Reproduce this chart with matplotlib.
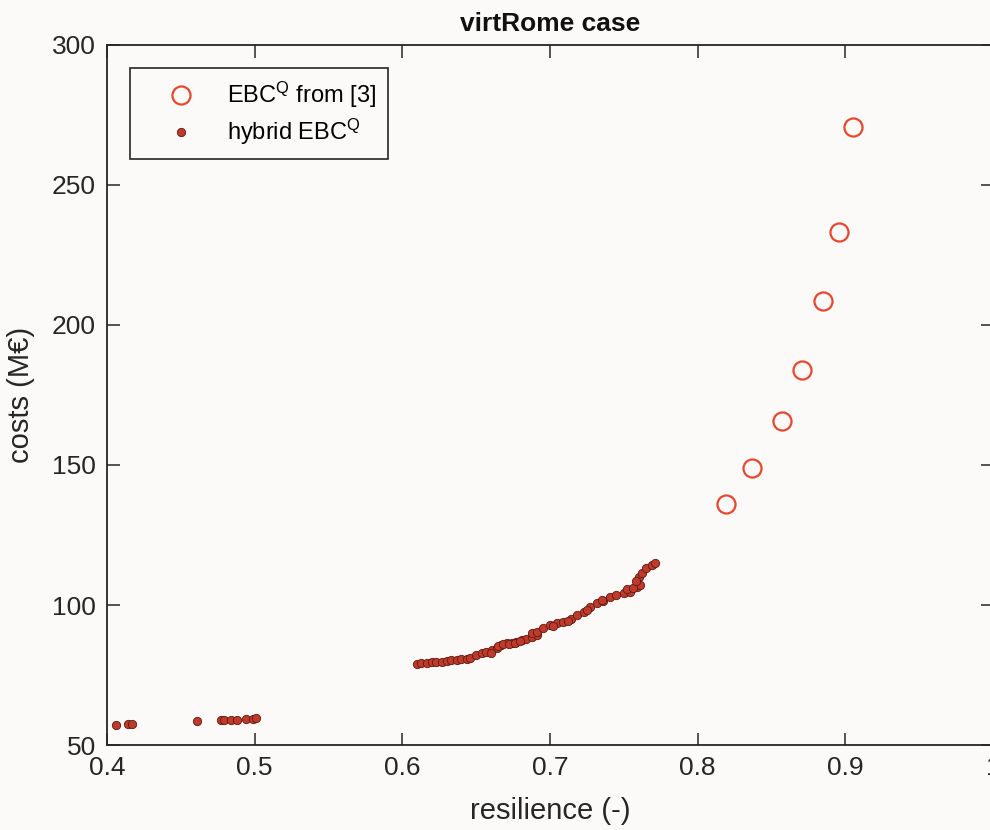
import matplotlib
matplotlib.use('Agg')
import matplotlib.pyplot as plt

# EBC^Q solutions taken from [3]
ebc_res = [0.819, 0.837, 0.857, 0.871, 0.885, 0.896, 0.905]
ebc_cost = [136.1, 148.8, 165.7, 183.9, 208.4, 233.3, 270.6]

# hybrid EBC^Q front, low-resilience group
hyb_res_low = [0.406, 0.414, 0.417, 0.461, 0.477, 0.479, 0.484, 0.488, 0.494, 0.499, 0.501]
hyb_cost_low = [57.3, 57.4, 57.4, 58.6, 58.9, 58.9, 59.0, 59.0, 59.3, 59.4, 59.5]

# hybrid EBC^Q front, main branch
hyb_res = [0.610, 0.613, 0.617, 0.620, 0.623, 0.627, 0.630, 0.633, 0.637, 0.640,
           0.644, 0.646, 0.650, 0.654, 0.657, 0.661, 0.664, 0.667, 0.671, 0.674,
           0.677, 0.681, 0.684, 0.688, 0.691, 0.688, 0.691, 0.695, 0.700, 0.705,
           0.709, 0.714, 0.718, 0.723, 0.727, 0.732, 0.736, 0.741, 0.745, 0.750,
           0.754, 0.759, 0.761, 0.760, 0.762, 0.765, 0.769, 0.771,
           0.660, 0.665, 0.668, 0.672, 0.676, 0.680, 0.702, 0.712, 0.725, 0.735,
           0.752, 0.756, 0.758]
hyb_cost = [78.8, 79.2, 79.3, 79.5, 79.6, 79.8, 80.0, 80.3, 80.4, 80.6,
            80.8, 81.1, 82.1, 82.8, 83.2, 83.9, 84.5, 85.7, 86.3, 86.5,
            86.9, 87.5, 87.8, 88.7, 89.3, 89.9, 90.5, 91.7, 92.9, 93.5,
            94.0, 94.9, 96.4, 97.6, 99.4, 100.6, 101.4, 102.8, 103.6, 104.2,
            104.8, 106.5, 107.1, 110.1, 111.3, 113.1, 114.3, 114.9,
            83.0, 85.2, 86.0, 86.0, 86.3, 87.0, 92.4, 94.3, 98.3, 101.8,
            105.6, 106.2, 108.6]

plt.rcParams['font.family'] = ['Liberation Sans', 'DejaVu Sans']
plt.rcParams['mathtext.fontset'] = 'custom'
plt.rcParams['mathtext.rm'] = 'Liberation Sans'
plt.rcParams['mathtext.it'] = 'Liberation Sans:italic'
plt.rcParams['mathtext.bf'] = 'Liberation Sans:bold'

bg = '#fbfaf9'
fig = plt.figure(figsize=(9.9, 8.3), dpi=100, facecolor=bg)
ax = fig.add_axes([0.108, 0.1024, 0.895, 0.8434], facecolor=bg)

ax.plot(ebc_res, ebc_cost, 'o', ls='none', ms=13, mfc='none', mec='#e5472f', mew=1.6,
        label=r'EBC$^{\mathrm{Q}}$ from [3]')
ax.plot(hyb_res + hyb_res_low, hyb_cost + hyb_cost_low, 'o', ls='none', ms=6,
        mfc='#c0392b', mec='#5a1c14', mew=0.6, label=r'hybrid EBC$^{\mathrm{Q}}$')

ax.set_xlim(0.4, 1.0)
ax.set_ylim(50, 300)
ax.set_xticks([0.4, 0.5, 0.6, 0.7, 0.8, 0.9, 1.0])
ax.set_xticklabels(['0.4', '0.5', '0.6', '0.7', '0.8', '0.9', '1'])
ax.set_yticks([50, 100, 150, 200, 250, 300])
ax.tick_params(direction='in', length=9, width=1.1, labelsize=19, top=True, right=True,
               colors='#262626', pad=8)
for s in ax.spines.values():
    s.set_linewidth(1.3)
    s.set_color('#262626')

ax.set_xlabel('resilience (-)', fontsize=21, color='#262626', labelpad=12)
ax.set_ylabel('costs (M€)', fontsize=21, color='#262626', labelpad=12)
ax.set_title('virtRome case', fontsize=19, fontweight='bold', color='#111111', pad=10)

leg = ax.legend(loc='upper left', bbox_to_anchor=(0.026, 0.967), borderaxespad=0,
                fontsize=17, frameon=True, fancybox=False, edgecolor='#262626',
                facecolor=bg, framealpha=1, handletextpad=0.3, labelspacing=0.3,
                borderpad=0.5, handlelength=3.3)
leg.get_frame().set_linewidth(1.2)

fig.savefig('out.png', dpi=100, facecolor=bg)
